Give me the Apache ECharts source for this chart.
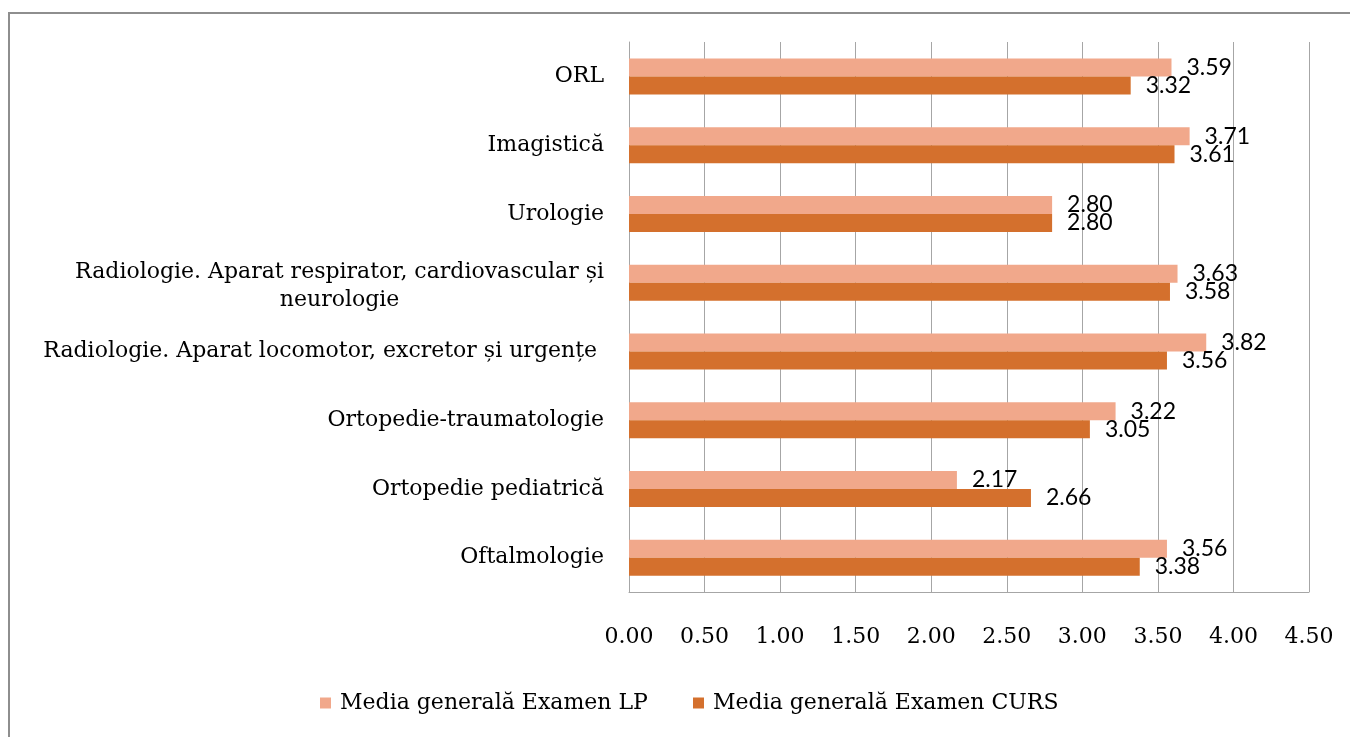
<!DOCTYPE html>
<html>
<head>
<meta charset="utf-8">
<script src="https://cdn.jsdelivr.net/npm/echarts@6/dist/echarts.min.js"></script>
<style>
  html, body { margin: 0; padding: 0; background: #fff; }
  #chart { width: 1350px; height: 737px; }
</style>
</head>
<body>
<div id="chart"></div>
<script>
// categorii, de sus in jos
const categories = [
  "ORL",
  "Imagistică",
  "Urologie",
  "Radiologie. Aparat respirator, cardiovascular și\nneurologie",
  "Radiologie. Aparat locomotor, excretor și urgențe ",
  "Ortopedie-traumatologie",
  "Ortopedie pediatrică",
  "Oftalmologie"
];
const seriesNames = ["Media generală Examen LP", "Media generală Examen CURS"];
const lpValues = [3.59, 3.71, 2.80, 3.63, 3.82, 3.22, 2.17, 3.56];
const cursValues = [3.32, 3.61, 2.80, 3.58, 3.56, 3.05, 2.66, 3.38];
const xTicks = [0, 0.5, 1, 1.5, 2, 2.5, 3, 3.5, 4, 4.5];

const serif = "'DejaVu Serif', serif";
const sans = "Lato, 'Open Sans', sans-serif";
const colors = ["#F1A88B", "#D4702D"];
const fs = 22;

const chart = echarts.init(document.getElementById("chart"));

function legendItem(name, left) {
  return {
    data: [name],
    left: left,
    top: 692,
    padding: 0,
    icon: "rect",
    itemWidth: 11,
    itemHeight: 11,
    textStyle: {
      fontFamily: serif,
      fontSize: fs,
      color: "#000",
      padding: [0, 0, 0, 4]
    }
  };
}

chart.setOption({
  animation: false,
  color: colors,
  graphic: [
    {
      type: "polyline",
      shape: { points: [[9, 740], [9, 13], [1360, 13]] },
      style: { stroke: "#8E8E8E", lineWidth: 2, fill: null },
      silent: true
    }
  ],
  legend: [legendItem(seriesNames[0], 320), legendItem(seriesNames[1], 693)],
  grid: {
    left: 629,
    right: 41,
    top: 42,
    bottom: 145,
    containLabel: false,
    outerBoundsMode: "none"
  },
  xAxis: {
    type: "value",
    min: xTicks[0],
    max: xTicks[xTicks.length - 1],
    interval: 0.5,
    axisLine: { show: true, lineStyle: { color: "#A6A6A6", width: 1 } },
    axisTick: { show: false },
    splitLine: { show: true, lineStyle: { color: "#A6A6A6", width: 1 } },
    axisLabel: {
      margin: 34,
      fontFamily: serif,
      fontSize: fs,
      color: "#000",
      formatter: (v) => v.toFixed(2)
    }
  },
  yAxis: {
    type: "category",
    inverse: true,
    data: categories,
    axisLine: { show: true, lineStyle: { color: "#A6A6A6", width: 1 } },
    axisTick: { show: false },
    splitLine: { show: false },
    axisLabel: {
      margin: 25,
      fontFamily: serif,
      fontSize: fs,
      color: "#000",
      lineHeight: 28,
      // eticheta pe doua randuri: liniile centrate
      formatter: (v) => {
        if (v.indexOf("\n") < 0) return v;
        return v.split("\n").map((s) => "{c|" + s + "}").join("\n");
      },
      rich: {
        c: {
          align: "center",
          fontFamily: serif,
          fontSize: fs,
          color: "#000",
          lineHeight: 28,
          padding: [7, 0, 0, 0]
        }
      }
    }
  },
  series: [
    {
      name: seriesNames[0],
      type: "bar",
      data: lpValues,
      barWidth: 18,
      barGap: "0%",
      label: {
        show: true,
        position: "right",
        distance: 15,
        fontFamily: sans,
        fontSize: 23,
        color: "#000",
        formatter: (p) => p.value.toFixed(2)
      }
    },
    {
      name: seriesNames[1],
      type: "bar",
      data: cursValues,
      barWidth: 18,
      barGap: "0%",
      label: {
        show: true,
        position: "right",
        distance: 15,
        fontFamily: sans,
        fontSize: 23,
        color: "#000",
        formatter: (p) => p.value.toFixed(2)
      }
    }
  ]
});
</script>
</body>
</html>
